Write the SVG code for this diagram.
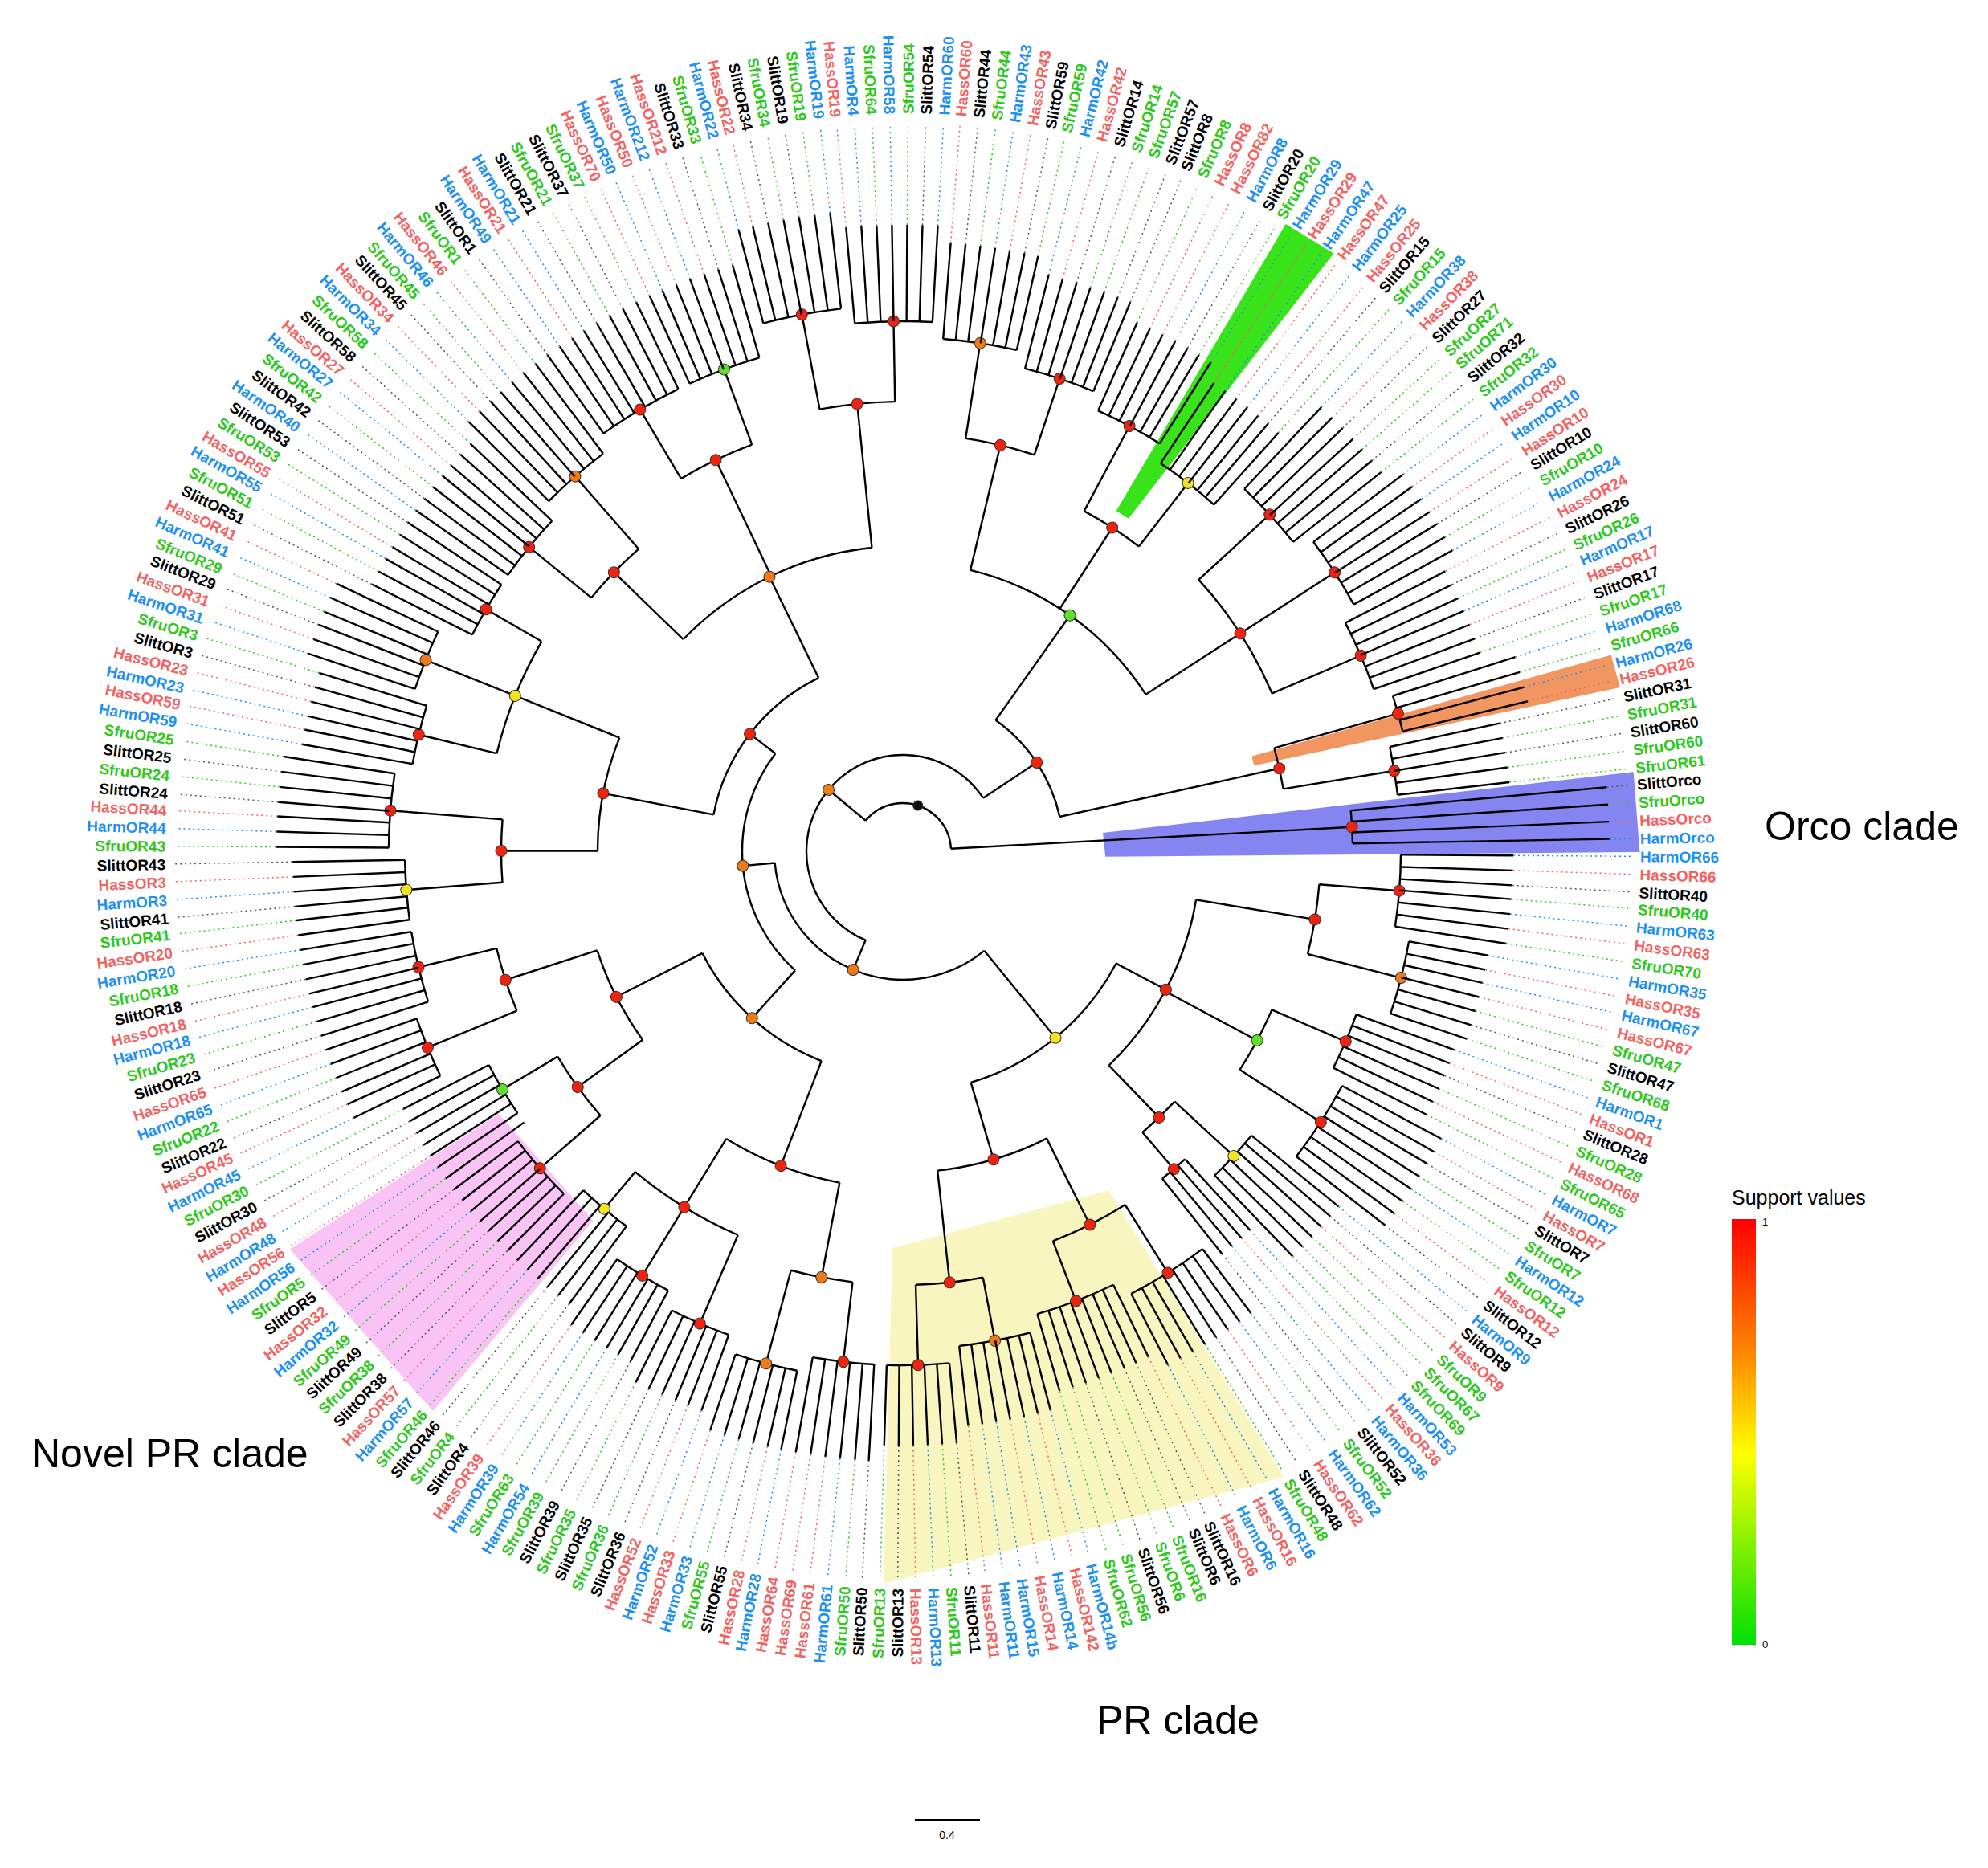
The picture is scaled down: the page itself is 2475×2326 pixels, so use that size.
<svg xmlns="http://www.w3.org/2000/svg" width="2475" height="2326" viewBox="0 0 2475 2326">
<style>
text{font-family:"Liberation Sans",Arial,sans-serif}
.lab text{font-size:19px;font-weight:bold}
.t{stroke:#000;stroke-width:2.4;fill:none}
.d{stroke-width:1.5;stroke-dasharray:2 4;fill:none}
.B text{fill:#1e90f0}.B .d{stroke:#1e90f0}
.R text{fill:#f06464}.R .d{stroke:#f06464}
.G text{fill:#2ec81e}.G .d{stroke:#2ec81e}
.K text{fill:#000}.K .d{stroke:#555}
.f text{text-anchor:end}
.br circle,.br path{fill:none;stroke:#000;stroke-width:2.4}
.dots circle{stroke:#333;stroke-width:1}
.r{fill:#f0230f}.o{fill:#f07a14}.y{fill:#f2e51c}.g{fill:#5fe02a}.k{fill:#111}
.big{font-size:50px;fill:#000}
</style>
<defs>
<linearGradient id="sv" x1="0" y1="0" x2="0" y2="1">
<stop offset="0" stop-color="#ff0000"/><stop offset="0.3" stop-color="#ff8000"/><stop offset="0.55" stop-color="#ffff00"/><stop offset="1" stop-color="#00e000"/>
</linearGradient>
</defs>
<rect width="2475" height="2326" fill="#fff"/>
<g transform="translate(1124 1060)">
<g id="shades">
<polygon transform="rotate(353.8)" points="250,4 915,0 912,100 250,34" fill="#6666ee" opacity="0.8"/>
<polygon transform="rotate(344.5)" points="450,2 915,0 915,42 450,14" fill="#f08a50" opacity="0.9"/>
<polygon transform="rotate(301.4)" points="500,6 915,0 915,70 500,24" fill="#22e000" opacity="0.9"/>
<path transform="rotate(130)" d="M600 0L910 0L870.2 266.1L573.8 175.4Z" fill="#f8b8f4" opacity="0.85"/>
<path transform="rotate(58.7)" d="M494 0L912 0L766.6 494L415.3 267.6Z" fill="#f8f4b8" opacity="0.9"/>
</g>
<g id="connectors" class="br">
<circle r="560" pathLength="360" stroke-dasharray="4.2 400" transform="rotate(354.8)"/>
<circle r="620" pathLength="360" stroke-dasharray="8.3 400" transform="rotate(0.4)"/>
<circle r="640" pathLength="360" stroke-dasharray="8.3 400" transform="rotate(10.1)"/>
<circle r="600" pathLength="360" stroke-dasharray="6.9 400" transform="rotate(19.8)"/>
<circle r="620" pathLength="360" stroke-dasharray="9.7 400" transform="rotate(28.1)"/>
<circle r="560" pathLength="360" stroke-dasharray="6.9 400" transform="rotate(39.2)"/>
<circle r="520" pathLength="360" stroke-dasharray="4.1 400" transform="rotate(47.5)"/>
<circle r="620" pathLength="360" stroke-dasharray="9.7 400" transform="rotate(53.0)"/>
<circle r="600" pathLength="360" stroke-dasharray="9.7 400" transform="rotate(64.1)"/>
<circle r="620" pathLength="360" stroke-dasharray="8.3 400" transform="rotate(75.2)"/>
<circle r="640" pathLength="360" stroke-dasharray="7.0 400" transform="rotate(84.8)"/>
<circle r="640" pathLength="360" stroke-dasharray="6.9 400" transform="rotate(93.2)"/>
<circle r="660" pathLength="360" stroke-dasharray="6.9 400" transform="rotate(101.5)"/>
<circle r="640" pathLength="360" stroke-dasharray="6.9 400" transform="rotate(109.8)"/>
<circle r="620" pathLength="360" stroke-dasharray="6.9 400" transform="rotate(118.1)"/>
<circle r="580" pathLength="360" stroke-dasharray="6.9 400" transform="rotate(126.4)"/>
<circle r="600" pathLength="360" stroke-dasharray="8.3 400" transform="rotate(134.7)"/>
<circle r="580" pathLength="360" stroke-dasharray="6.9 400" transform="rotate(145.8)"/>
<circle r="640" pathLength="360" stroke-dasharray="6.9 400" transform="rotate(154.1)"/>
<circle r="620" pathLength="360" stroke-dasharray="8.3 400" transform="rotate(162.4)"/>
<circle r="620" pathLength="360" stroke-dasharray="6.9 400" transform="rotate(172.1)"/>
<circle r="640" pathLength="360" stroke-dasharray="8.3 400" transform="rotate(180.4)"/>
<circle r="620" pathLength="360" stroke-dasharray="6.9 400" transform="rotate(190.1)"/>
<circle r="640" pathLength="360" stroke-dasharray="6.9 400" transform="rotate(198.4)"/>
<circle r="600" pathLength="360" stroke-dasharray="6.9 400" transform="rotate(206.7)"/>
<circle r="600" pathLength="360" stroke-dasharray="8.3 400" transform="rotate(215.0)"/>
<circle r="620" pathLength="360" stroke-dasharray="8.3 400" transform="rotate(224.7)"/>
<circle r="640" pathLength="360" stroke-dasharray="9.7 400" transform="rotate(234.4)"/>
<circle r="640" pathLength="360" stroke-dasharray="8.3 400" transform="rotate(245.5)"/>
<circle r="680" pathLength="360" stroke-dasharray="8.3 400" transform="rotate(255.2)"/>
<circle r="660" pathLength="360" stroke-dasharray="8.4 400" transform="rotate(264.8)"/>
<circle r="640" pathLength="360" stroke-dasharray="8.3 400" transform="rotate(274.5)"/>
<circle r="620" pathLength="360" stroke-dasharray="8.3 400" transform="rotate(284.2)"/>
<circle r="600" pathLength="360" stroke-dasharray="8.3 400" transform="rotate(293.9)"/>
<circle r="580" pathLength="360" stroke-dasharray="8.3 400" transform="rotate(303.6)"/>
<circle r="620" pathLength="360" stroke-dasharray="8.3 400" transform="rotate(313.3)"/>
<circle r="640" pathLength="360" stroke-dasharray="8.3 400" transform="rotate(323.0)"/>
<circle r="620" pathLength="360" stroke-dasharray="8.3 400" transform="rotate(332.7)"/>
<circle r="640" pathLength="360" stroke-dasharray="4.1 400" transform="rotate(342.4)"/>
<circle r="620" pathLength="360" stroke-dasharray="5.6 400" transform="rotate(347.9)"/>
<circle r="520" pathLength="360" stroke-dasharray="9.7 400" transform="rotate(4.55)"/>
<circle r="500" pathLength="360" stroke-dasharray="9.7 400" transform="rotate(23.25)"/>
<circle r="460" pathLength="360" stroke-dasharray="6.9 400" transform="rotate(42.65)"/>
<circle r="370" pathLength="360" stroke-dasharray="36.7 400" transform="rotate(9.4)"/>
<circle r="520" pathLength="360" stroke-dasharray="11.1 400" transform="rotate(57.85)"/>
<circle r="540" pathLength="360" stroke-dasharray="8.95 400" transform="rotate(79.35)"/>
<circle r="400" pathLength="360" stroke-dasharray="20.4 400" transform="rotate(63.4)"/>
<circle r="540" pathLength="360" stroke-dasharray="8.3 400" transform="rotate(96.65)"/>
<circle r="520" pathLength="360" stroke-dasharray="16.6 400" transform="rotate(113.25)"/>
<circle r="420" pathLength="360" stroke-dasharray="20.75 400" transform="rotate(100.8)"/>
<circle r="500" pathLength="360" stroke-dasharray="10.4 400" transform="rotate(138.85)"/>
<circle r="520" pathLength="360" stroke-dasharray="9 400" transform="rotate(157.55)"/>
<circle r="400" pathLength="360" stroke-dasharray="18 400" transform="rotate(144.05)"/>
<circle r="500" pathLength="360" stroke-dasharray="9 400" transform="rotate(175.55)"/>
<circle r="520" pathLength="360" stroke-dasharray="16.6 400" transform="rotate(193.55)"/>
<circle r="380" pathLength="360" stroke-dasharray="21.8 400" transform="rotate(180.05)"/>
<circle r="500" pathLength="360" stroke-dasharray="9.7 400" transform="rotate(219.15)"/>
<circle r="540" pathLength="360" stroke-dasharray="10.4 400" transform="rotate(239.25)"/>
<circle r="560" pathLength="360" stroke-dasharray="9.65 400" transform="rotate(259.35)"/>
<circle r="380" pathLength="360" stroke-dasharray="40.175 400" transform="rotate(224.0)"/>
<circle r="520" pathLength="360" stroke-dasharray="9.7 400" transform="rotate(278.65)"/>
<circle r="480" pathLength="360" stroke-dasharray="9.7 400" transform="rotate(298.05)"/>
<circle r="500" pathLength="360" stroke-dasharray="19.4 400" transform="rotate(317.45)"/>
<circle r="360" pathLength="360" stroke-dasharray="43.65 400" transform="rotate(283.5)"/>
<circle r="480" pathLength="360" stroke-dasharray="6.25 400" transform="rotate(344.45)"/>
<circle r="240" pathLength="360" stroke-dasharray="53.14 400" transform="rotate(190.95)"/>
<circle r="280" pathLength="360" stroke-dasharray="41.85 400" transform="rotate(111.2)"/>
<circle r="200" pathLength="360" stroke-dasharray="85.4 400" transform="rotate(132.1)"/>
<circle r="300" pathLength="360" stroke-dasharray="45.85 400" transform="rotate(27.75)"/>
<circle r="160" pathLength="360" stroke-dasharray="124.1 400" transform="rotate(50.7)"/>
<circle r="200" pathLength="360" stroke-dasharray="42.3 400" transform="rotate(305.3)"/>
<circle r="120" pathLength="360" stroke-dasharray="213.7 400" transform="rotate(112.75)"/>
<circle r="60" pathLength="360" stroke-dasharray="137.3 400" transform="rotate(219.6)"/>
<path d="M520 0H620" transform="rotate(4.55)"/>
<path d="M520 0H640" transform="rotate(14.25)"/>
<path d="M500 0H600" transform="rotate(23.25)"/>
<path d="M500 0H620" transform="rotate(32.95)"/>
<path d="M460 0H560" transform="rotate(42.65)"/>
<path d="M460 0H520" transform="rotate(49.55)"/>
<path d="M370 0H520" transform="rotate(9.4)"/>
<path d="M370 0H500" transform="rotate(28.1)"/>
<path d="M370 0H460" transform="rotate(46.1)"/>
<path d="M520 0H620" transform="rotate(57.85)"/>
<path d="M520 0H600" transform="rotate(68.95)"/>
<path d="M540 0H620" transform="rotate(79.35)"/>
<path d="M540 0H640" transform="rotate(88.3)"/>
<path d="M400 0H520" transform="rotate(63.4)"/>
<path d="M400 0H540" transform="rotate(83.8)"/>
<path d="M540 0H640" transform="rotate(96.65)"/>
<path d="M540 0H660" transform="rotate(104.95)"/>
<path d="M520 0H640" transform="rotate(113.25)"/>
<path d="M520 0H620" transform="rotate(121.55)"/>
<path d="M520 0H580" transform="rotate(129.85)"/>
<path d="M420 0H540" transform="rotate(100.8)"/>
<path d="M420 0H520" transform="rotate(121.55)"/>
<path d="M500 0H600" transform="rotate(138.85)"/>
<path d="M500 0H580" transform="rotate(149.25)"/>
<path d="M520 0H640" transform="rotate(157.55)"/>
<path d="M520 0H620" transform="rotate(166.55)"/>
<path d="M400 0H500" transform="rotate(144.05)"/>
<path d="M400 0H520" transform="rotate(162.05)"/>
<path d="M500 0H620" transform="rotate(175.55)"/>
<path d="M500 0H640" transform="rotate(184.55)"/>
<path d="M520 0H620" transform="rotate(193.55)"/>
<path d="M520 0H640" transform="rotate(201.85)"/>
<path d="M520 0H600" transform="rotate(210.15)"/>
<path d="M380 0H500" transform="rotate(180.05)"/>
<path d="M380 0H520" transform="rotate(201.85)"/>
<path d="M500 0H600" transform="rotate(219.15)"/>
<path d="M500 0H620" transform="rotate(228.85)"/>
<path d="M540 0H640" transform="rotate(239.25)"/>
<path d="M540 0H640" transform="rotate(249.65)"/>
<path d="M560 0H680" transform="rotate(259.35)"/>
<path d="M560 0H660" transform="rotate(269.0)"/>
<path d="M380 0H500" transform="rotate(224.0)"/>
<path d="M380 0H540" transform="rotate(244.45)"/>
<path d="M380 0H560" transform="rotate(264.175)"/>
<path d="M520 0H640" transform="rotate(278.65)"/>
<path d="M520 0H620" transform="rotate(288.35)"/>
<path d="M480 0H600" transform="rotate(298.05)"/>
<path d="M480 0H580" transform="rotate(307.75)"/>
<path d="M500 0H620" transform="rotate(317.45)"/>
<path d="M500 0H640" transform="rotate(327.15)"/>
<path d="M500 0H620" transform="rotate(336.85)"/>
<path d="M360 0H520" transform="rotate(283.5)"/>
<path d="M360 0H480" transform="rotate(302.9)"/>
<path d="M360 0H500" transform="rotate(327.15)"/>
<path d="M480 0H640" transform="rotate(344.45)"/>
<path d="M480 0H620" transform="rotate(350.7)"/>
<path d="M240 0H380" transform="rotate(190.95)"/>
<path d="M240 0H380" transform="rotate(244.09)"/>
<path d="M280 0H420" transform="rotate(111.2)"/>
<path d="M280 0H400" transform="rotate(153.05)"/>
<path d="M200 0H280" transform="rotate(132.1)"/>
<path d="M200 0H240" transform="rotate(217.5)"/>
<path d="M300 0H370" transform="rotate(27.75)"/>
<path d="M300 0H400" transform="rotate(73.6)"/>
<path d="M160 0H300" transform="rotate(50.7)"/>
<path d="M160 0H200" transform="rotate(174.8)"/>
<path d="M200 0H360" transform="rotate(305.3)"/>
<path d="M200 0H480" transform="rotate(347.575)"/>
<path d="M120 0H160" transform="rotate(112.75)"/>
<path d="M120 0H200" transform="rotate(326.45)"/>
<path d="M60 0H120" transform="rotate(219.6)"/>
<path d="M60 0H560" transform="rotate(356.9)"/>
</g>
<g id="nodes-support" class="dots">
<circle class="r" cx="620" r="7" transform="rotate(4.55)"/><circle class="o" cx="640" r="7" transform="rotate(14.25)"/><circle class="r" cx="600" r="7" transform="rotate(23.25)"/><circle class="r" cx="620" r="7" transform="rotate(32.95)"/><circle class="y" cx="560" r="7" transform="rotate(42.65)"/><circle class="r" cx="520" r="7" transform="rotate(49.55)"/>
<circle class="r" cx="620" r="7" transform="rotate(57.85)"/><circle class="r" cx="600" r="7" transform="rotate(68.95)"/><circle class="o" cx="620" r="7" transform="rotate(79.35)"/><circle class="r" cx="640" r="7" transform="rotate(88.3)"/>
<circle class="r" cx="640" r="7" transform="rotate(96.65)"/><circle class="o" cx="660" r="7" transform="rotate(104.95)"/><circle class="r" cx="640" r="7" transform="rotate(113.25)"/><circle class="r" cx="620" r="7" transform="rotate(121.55)"/><circle class="y" cx="580" r="7" transform="rotate(129.85)"/>
<circle class="r" cx="600" r="7" transform="rotate(138.85)"/><circle class="g" cx="580" r="7" transform="rotate(149.25)"/><circle class="r" cx="640" r="7" transform="rotate(157.55)"/><circle class="r" cx="620" r="7" transform="rotate(166.55)"/>
<circle class="y" cx="620" r="7" transform="rotate(175.55)"/><circle class="r" cx="640" r="7" transform="rotate(184.55)"/><circle class="r" cx="620" r="7" transform="rotate(193.55)"/><circle class="o" cx="640" r="7" transform="rotate(201.85)"/><circle class="r" cx="600" r="7" transform="rotate(210.15)"/>
<circle class="r" cx="600" r="7" transform="rotate(219.15)"/><circle class="o" cx="620" r="7" transform="rotate(228.85)"/><circle class="r" cx="640" r="7" transform="rotate(239.25)"/><circle class="g" cx="640" r="7" transform="rotate(249.65)"/><circle class="r" cx="680" r="7" transform="rotate(259.35)"/><circle class="r" cx="660" r="7" transform="rotate(269.0)"/>
<circle class="o" cx="640" r="7" transform="rotate(278.65)"/><circle class="r" cx="620" r="7" transform="rotate(288.35)"/><circle class="r" cx="600" r="7" transform="rotate(298.05)"/><circle class="y" cx="580" r="7" transform="rotate(307.75)"/><circle class="r" cx="620" r="7" transform="rotate(317.45)"/><circle class="r" cx="640" r="7" transform="rotate(327.15)"/><circle class="r" cx="620" r="7" transform="rotate(336.85)"/>
<circle class="r" cx="640" r="7" transform="rotate(344.45)"/><circle class="r" cx="620" r="7" transform="rotate(350.7)"/><circle class="r" cx="560" r="7" transform="rotate(356.9)"/>
<circle class="r" cx="520" r="7" transform="rotate(9.4)"/><circle class="g" cx="500" r="7" transform="rotate(28.1)"/><circle class="r" cx="460" r="7" transform="rotate(46.1)"/><circle class="r" cx="370" r="7" transform="rotate(27.75)"/>
<circle class="r" cx="520" r="7" transform="rotate(63.4)"/><circle class="r" cx="540" r="7" transform="rotate(83.8)"/><circle class="r" cx="400" r="7" transform="rotate(73.6)"/>
<circle class="o" cx="540" r="7" transform="rotate(100.8)"/><circle class="r" cx="520" r="7" transform="rotate(121.55)"/><circle class="r" cx="420" r="7" transform="rotate(111.2)"/>
<circle class="r" cx="500" r="7" transform="rotate(144.05)"/><circle class="r" cx="520" r="7" transform="rotate(162.05)"/><circle class="r" cx="400" r="7" transform="rotate(153.05)"/>
<circle class="r" cx="500" r="7" transform="rotate(180.05)"/><circle class="y" cx="520" r="7" transform="rotate(201.85)"/><circle class="r" cx="380" r="7" transform="rotate(190.95)"/>
<circle class="r" cx="500" r="7" transform="rotate(224)"/><circle class="r" cx="540" r="7" transform="rotate(244.45)"/><circle class="r" cx="560" r="7" transform="rotate(264.175)"/><circle class="o" cx="380" r="7" transform="rotate(244.09)"/>
<circle class="r" cx="520" r="7" transform="rotate(283.5)"/><circle class="r" cx="480" r="7" transform="rotate(302.9)"/><circle class="r" cx="500" r="7" transform="rotate(327.15)"/><circle class="g" cx="360" r="7" transform="rotate(305.3)"/>
<circle class="r" cx="480" r="7" transform="rotate(347.575)"/>
<circle class="r" cx="240" r="7" transform="rotate(217.5)"/><circle class="o" cx="280" r="7" transform="rotate(132.1)"/><circle class="o" cx="200" r="7" transform="rotate(174.8)"/><circle class="y" cx="300" r="7" transform="rotate(50.7)"/><circle class="o" cx="160" r="7" transform="rotate(112.75)"/><circle class="r" cx="200" r="7" transform="rotate(326.45)"/><circle class="o" cx="120" r="7" transform="rotate(219.6)"/><circle class="k" cx="60" r="6" transform="rotate(288.25)"/>
</g>
<g id="tips" class="lab">
<g id="n1" class="B" transform="rotate(-1.0)"><path class="t" d="M560 0H880"/><path class="d" d="M880 0H906"/><text x="918" y="7">HarmOrco</text></g>
<g id="n2" class="B" transform="rotate(0.4)"><path class="t" d="M620 0H760"/><path class="d" d="M760 0H906"/><text x="918" y="7">HarmOR66</text></g>
<g id="n3" class="R" transform="rotate(1.8)"><path class="t" d="M620 0H760"/><path class="d" d="M760 0H906"/><text x="918" y="7">HassOR66</text></g>
<g id="n4" class="K" transform="rotate(3.2)"><path class="t" d="M620 0H760"/><path class="d" d="M760 0H906"/><text x="918" y="7">SlittOR40</text></g>
<g id="n5" class="G" transform="rotate(4.5)"><path class="t" d="M620 0H760"/><path class="d" d="M760 0H906"/><text x="918" y="7">SfruOR40</text></g>
<g id="n6" class="B" transform="rotate(5.9)"><path class="t" d="M620 0H760"/><path class="d" d="M760 0H906"/><text x="918" y="7">HarmOR63</text></g>
<g id="n7" class="R" transform="rotate(7.3)"><path class="t" d="M620 0H760"/><path class="d" d="M760 0H906"/><text x="918" y="7">HassOR63</text></g>
<g id="n8" class="G" transform="rotate(8.7)"><path class="t" d="M620 0H760"/><path class="d" d="M760 0H906"/><text x="918" y="7">SfruOR70</text></g>
<g id="n9" class="B" transform="rotate(10.1)"><path class="t" d="M640 0H740"/><path class="d" d="M740 0H906"/><text x="918" y="7">HarmOR35</text></g>
<g id="n10" class="R" transform="rotate(11.5)"><path class="t" d="M640 0H740"/><path class="d" d="M740 0H906"/><text x="918" y="7">HassOR35</text></g>
<g id="n11" class="B" transform="rotate(12.8)"><path class="t" d="M640 0H740"/><path class="d" d="M740 0H906"/><text x="918" y="7">HarmOR67</text></g>
<g id="n12" class="R" transform="rotate(14.2)"><path class="t" d="M640 0H740"/><path class="d" d="M740 0H906"/><text x="918" y="7">HassOR67</text></g>
<g id="n13" class="G" transform="rotate(15.6)"><path class="t" d="M640 0H740"/><path class="d" d="M740 0H906"/><text x="918" y="7">SfruOR47</text></g>
<g id="n14" class="K" transform="rotate(17.0)"><path class="t" d="M640 0H740"/><path class="d" d="M740 0H906"/><text x="918" y="7">SlittOR47</text></g>
<g id="n15" class="G" transform="rotate(18.4)"><path class="t" d="M640 0H740"/><path class="d" d="M740 0H906"/><text x="918" y="7">SfruOR68</text></g>
<g id="n16" class="B" transform="rotate(19.8)"><path class="t" d="M600 0H730"/><path class="d" d="M730 0H906"/><text x="918" y="7">HarmOR1</text></g>
<g id="n17" class="R" transform="rotate(21.2)"><path class="t" d="M600 0H730"/><path class="d" d="M730 0H906"/><text x="918" y="7">HassOR1</text></g>
<g id="n18" class="K" transform="rotate(22.5)"><path class="t" d="M600 0H730"/><path class="d" d="M730 0H906"/><text x="918" y="7">SlittOR28</text></g>
<g id="n19" class="G" transform="rotate(23.9)"><path class="t" d="M600 0H730"/><path class="d" d="M730 0H906"/><text x="918" y="7">SfruOR28</text></g>
<g id="n20" class="R" transform="rotate(25.3)"><path class="t" d="M600 0H730"/><path class="d" d="M730 0H906"/><text x="918" y="7">HassOR68</text></g>
<g id="n21" class="G" transform="rotate(26.7)"><path class="t" d="M600 0H730"/><path class="d" d="M730 0H906"/><text x="918" y="7">SfruOR65</text></g>
<g id="n22" class="B" transform="rotate(28.1)"><path class="t" d="M620 0H760"/><path class="d" d="M760 0H906"/><text x="918" y="7">HarmOR7</text></g>
<g id="n23" class="R" transform="rotate(29.5)"><path class="t" d="M620 0H760"/><path class="d" d="M760 0H906"/><text x="918" y="7">HassOR7</text></g>
<g id="n24" class="K" transform="rotate(30.8)"><path class="t" d="M620 0H760"/><path class="d" d="M760 0H906"/><text x="918" y="7">SlittOR7</text></g>
<g id="n25" class="G" transform="rotate(32.2)"><path class="t" d="M620 0H760"/><path class="d" d="M760 0H906"/><text x="918" y="7">SfruOR7</text></g>
<g id="n26" class="B" transform="rotate(33.6)"><path class="t" d="M620 0H760"/><path class="d" d="M760 0H906"/><text x="918" y="7">HarmOR12</text></g>
<g id="n27" class="G" transform="rotate(35.0)"><path class="t" d="M620 0H760"/><path class="d" d="M760 0H906"/><text x="918" y="7">SfruOR12</text></g>
<g id="n28" class="R" transform="rotate(36.4)"><path class="t" d="M620 0H760"/><path class="d" d="M760 0H906"/><text x="918" y="7">HassOR12</text></g>
<g id="n29" class="K" transform="rotate(37.8)"><path class="t" d="M620 0H760"/><path class="d" d="M760 0H906"/><text x="918" y="7">SlittOR12</text></g>
<g id="n30" class="B" transform="rotate(39.2)"><path class="t" d="M560 0H700"/><path class="d" d="M700 0H906"/><text x="918" y="7">HarmOR9</text></g>
<g id="n31" class="K" transform="rotate(40.5)"><path class="t" d="M560 0H700"/><path class="d" d="M700 0H906"/><text x="918" y="7">SlittOR9</text></g>
<g id="n32" class="R" transform="rotate(41.9)"><path class="t" d="M560 0H700"/><path class="d" d="M700 0H906"/><text x="918" y="7">HassOR9</text></g>
<g id="n33" class="G" transform="rotate(43.3)"><path class="t" d="M560 0H700"/><path class="d" d="M700 0H906"/><text x="918" y="7">SfruOR9</text></g>
<g id="n34" class="G" transform="rotate(44.7)"><path class="t" d="M560 0H700"/><path class="d" d="M700 0H906"/><text x="918" y="7">SfruOR67</text></g>
<g id="n35" class="G" transform="rotate(46.1)"><path class="t" d="M560 0H700"/><path class="d" d="M700 0H906"/><text x="918" y="7">SfruOR69</text></g>
<g id="n36" class="B" transform="rotate(47.5)"><path class="t" d="M520 0H640"/><path class="d" d="M640 0H906"/><text x="918" y="7">HarmOR53</text></g>
<g id="n37" class="R" transform="rotate(48.8)"><path class="t" d="M520 0H640"/><path class="d" d="M640 0H906"/><text x="918" y="7">HassOR36</text></g>
<g id="n38" class="B" transform="rotate(50.2)"><path class="t" d="M520 0H640"/><path class="d" d="M640 0H906"/><text x="918" y="7">HarmOR36</text></g>
<g id="n39" class="K" transform="rotate(51.6)"><path class="t" d="M520 0H640"/><path class="d" d="M640 0H906"/><text x="918" y="7">SlittOR52</text></g>
<g id="n40" class="G" transform="rotate(53.0)"><path class="t" d="M620 0H720"/><path class="d" d="M720 0H906"/><text x="918" y="7">SfruOR52</text></g>
<g id="n41" class="B" transform="rotate(54.4)"><path class="t" d="M620 0H720"/><path class="d" d="M720 0H906"/><text x="918" y="7">HarmOR62</text></g>
<g id="n42" class="R" transform="rotate(55.8)"><path class="t" d="M620 0H720"/><path class="d" d="M720 0H906"/><text x="918" y="7">HassOR62</text></g>
<g id="n43" class="K" transform="rotate(57.2)"><path class="t" d="M620 0H720"/><path class="d" d="M720 0H906"/><text x="918" y="7">SlittOR48</text></g>
<g id="n44" class="G" transform="rotate(58.5)"><path class="t" d="M620 0H720"/><path class="d" d="M720 0H906"/><text x="918" y="7">SfruOR48</text></g>
<g id="n45" class="B" transform="rotate(59.9)"><path class="t" d="M620 0H720"/><path class="d" d="M720 0H906"/><text x="918" y="7">HarmOR16</text></g>
<g id="n46" class="R" transform="rotate(61.3)"><path class="t" d="M620 0H720"/><path class="d" d="M720 0H906"/><text x="918" y="7">HassOR16</text></g>
<g id="n47" class="B" transform="rotate(62.7)"><path class="t" d="M620 0H720"/><path class="d" d="M720 0H906"/><text x="918" y="7">HarmOR6</text></g>
<g id="n48" class="R" transform="rotate(64.1)"><path class="t" d="M600 0H700"/><path class="d" d="M700 0H906"/><text x="918" y="7">HassOR6</text></g>
<g id="n49" class="K" transform="rotate(65.5)"><path class="t" d="M600 0H700"/><path class="d" d="M700 0H906"/><text x="918" y="7">SlittOR16</text></g>
<g id="n50" class="K" transform="rotate(66.8)"><path class="t" d="M600 0H700"/><path class="d" d="M700 0H906"/><text x="918" y="7">SlittOR6</text></g>
<g id="n51" class="G" transform="rotate(68.2)"><path class="t" d="M600 0H700"/><path class="d" d="M700 0H906"/><text x="918" y="7">SfruOR16</text></g>
<g id="n52" class="G" transform="rotate(69.6)"><path class="t" d="M600 0H700"/><path class="d" d="M700 0H906"/><text x="918" y="7">SfruOR6</text></g>
<g id="n53" class="K" transform="rotate(71.0)"><path class="t" d="M600 0H700"/><path class="d" d="M700 0H906"/><text x="918" y="7">SlittOR56</text></g>
<g id="n54" class="G" transform="rotate(72.4)"><path class="t" d="M600 0H700"/><path class="d" d="M700 0H906"/><text x="918" y="7">SfruOR56</text></g>
<g id="n55" class="G" transform="rotate(73.8)"><path class="t" d="M600 0H700"/><path class="d" d="M700 0H906"/><text x="918" y="7">SfruOR62</text></g>
<g id="n56" class="B" transform="rotate(75.2)"><path class="t" d="M620 0H720"/><path class="d" d="M720 0H906"/><text x="918" y="7">HarmOR14b</text></g>
<g id="n57" class="R" transform="rotate(76.5)"><path class="t" d="M620 0H720"/><path class="d" d="M720 0H906"/><text x="918" y="7">HassOR142</text></g>
<g id="n58" class="B" transform="rotate(77.9)"><path class="t" d="M620 0H720"/><path class="d" d="M720 0H906"/><text x="918" y="7">HarmOR14</text></g>
<g id="n59" class="R" transform="rotate(79.3)"><path class="t" d="M620 0H720"/><path class="d" d="M720 0H906"/><text x="918" y="7">HassOR14</text></g>
<g id="n60" class="B" transform="rotate(80.7)"><path class="t" d="M620 0H720"/><path class="d" d="M720 0H906"/><text x="918" y="7">HarmOR15</text></g>
<g id="n61" class="B" transform="rotate(82.1)"><path class="t" d="M620 0H720"/><path class="d" d="M720 0H906"/><text x="918" y="7">HarmOR11</text></g>
<g id="n62" class="R" transform="rotate(83.5)"><path class="t" d="M620 0H720"/><path class="d" d="M720 0H906"/><text x="918" y="7">HassOR11</text></g>
<g id="n63" class="K" transform="rotate(84.8)"><path class="t" d="M640 0H740"/><path class="d" d="M740 0H906"/><text x="918" y="7">SlittOR11</text></g>
<g id="n64" class="G" transform="rotate(86.2)"><path class="t" d="M640 0H740"/><path class="d" d="M740 0H906"/><text x="918" y="7">SfruOR11</text></g>
<g id="n65" class="B" transform="rotate(87.6)"><path class="t" d="M640 0H740"/><path class="d" d="M740 0H906"/><text x="918" y="7">HarmOR13</text></g>
<g id="n66" class="R" transform="rotate(89.0)"><path class="t" d="M640 0H740"/><path class="d" d="M740 0H906"/><text x="918" y="7">HassOR13</text></g>
<g id="n67" class="K f" transform="rotate(-89.6)"><path class="t" d="M-640 0H-740"/><path class="d" d="M-740 0H-906"/><text x="-918" y="7">SlittOR13</text></g>
<g id="n68" class="G f" transform="rotate(-88.2)"><path class="t" d="M-640 0H-740"/><path class="d" d="M-740 0H-906"/><text x="-918" y="7">SfruOR13</text></g>
<g id="n69" class="K f" transform="rotate(-86.8)"><path class="t" d="M-640 0H-760"/><path class="d" d="M-760 0H-906"/><text x="-918" y="7">SlittOR50</text></g>
<g id="n70" class="G f" transform="rotate(-85.5)"><path class="t" d="M-640 0H-760"/><path class="d" d="M-760 0H-906"/><text x="-918" y="7">SfruOR50</text></g>
<g id="n71" class="B f" transform="rotate(-84.1)"><path class="t" d="M-640 0H-760"/><path class="d" d="M-760 0H-906"/><text x="-918" y="7">HarmOR61</text></g>
<g id="n72" class="R f" transform="rotate(-82.7)"><path class="t" d="M-640 0H-760"/><path class="d" d="M-760 0H-906"/><text x="-918" y="7">HassOR61</text></g>
<g id="n73" class="R f" transform="rotate(-81.3)"><path class="t" d="M-640 0H-760"/><path class="d" d="M-760 0H-906"/><text x="-918" y="7">HassOR69</text></g>
<g id="n74" class="R f" transform="rotate(-79.9)"><path class="t" d="M-640 0H-760"/><path class="d" d="M-760 0H-906"/><text x="-918" y="7">HassOR64</text></g>
<g id="n75" class="B f" transform="rotate(-78.5)"><path class="t" d="M-660 0H-760"/><path class="d" d="M-760 0H-906"/><text x="-918" y="7">HarmOR28</text></g>
<g id="n76" class="R f" transform="rotate(-77.2)"><path class="t" d="M-660 0H-760"/><path class="d" d="M-760 0H-906"/><text x="-918" y="7">HassOR28</text></g>
<g id="n77" class="K f" transform="rotate(-75.8)"><path class="t" d="M-660 0H-760"/><path class="d" d="M-760 0H-906"/><text x="-918" y="7">SlittOR55</text></g>
<g id="n78" class="G f" transform="rotate(-74.4)"><path class="t" d="M-660 0H-760"/><path class="d" d="M-760 0H-906"/><text x="-918" y="7">SfruOR55</text></g>
<g id="n79" class="B f" transform="rotate(-73.0)"><path class="t" d="M-660 0H-760"/><path class="d" d="M-760 0H-906"/><text x="-918" y="7">HarmOR33</text></g>
<g id="n80" class="R f" transform="rotate(-71.6)"><path class="t" d="M-660 0H-760"/><path class="d" d="M-760 0H-906"/><text x="-918" y="7">HassOR33</text></g>
<g id="n81" class="B f" transform="rotate(-70.2)"><path class="t" d="M-640 0H-740"/><path class="d" d="M-740 0H-906"/><text x="-918" y="7">HarmOR52</text></g>
<g id="n82" class="R f" transform="rotate(-68.8)"><path class="t" d="M-640 0H-740"/><path class="d" d="M-740 0H-906"/><text x="-918" y="7">HassOR52</text></g>
<g id="n83" class="K f" transform="rotate(-67.5)"><path class="t" d="M-640 0H-740"/><path class="d" d="M-740 0H-906"/><text x="-918" y="7">SlittOR36</text></g>
<g id="n84" class="G f" transform="rotate(-66.1)"><path class="t" d="M-640 0H-740"/><path class="d" d="M-740 0H-906"/><text x="-918" y="7">SfruOR36</text></g>
<g id="n85" class="K f" transform="rotate(-64.7)"><path class="t" d="M-640 0H-740"/><path class="d" d="M-740 0H-906"/><text x="-918" y="7">SlittOR35</text></g>
<g id="n86" class="G f" transform="rotate(-63.3)"><path class="t" d="M-640 0H-740"/><path class="d" d="M-740 0H-906"/><text x="-918" y="7">SfruOR35</text></g>
<g id="n87" class="K f" transform="rotate(-61.9)"><path class="t" d="M-620 0H-720"/><path class="d" d="M-720 0H-906"/><text x="-918" y="7">SlittOR39</text></g>
<g id="n88" class="G f" transform="rotate(-60.5)"><path class="t" d="M-620 0H-720"/><path class="d" d="M-720 0H-906"/><text x="-918" y="7">SfruOR39</text></g>
<g id="n89" class="B f" transform="rotate(-59.2)"><path class="t" d="M-620 0H-720"/><path class="d" d="M-720 0H-906"/><text x="-918" y="7">HarmOR54</text></g>
<g id="n90" class="G f" transform="rotate(-57.8)"><path class="t" d="M-620 0H-720"/><path class="d" d="M-720 0H-906"/><text x="-918" y="7">SfruOR63</text></g>
<g id="n91" class="B f" transform="rotate(-56.4)"><path class="t" d="M-620 0H-720"/><path class="d" d="M-720 0H-906"/><text x="-918" y="7">HarmOR39</text></g>
<g id="n92" class="R f" transform="rotate(-55.0)"><path class="t" d="M-620 0H-720"/><path class="d" d="M-720 0H-906"/><text x="-918" y="7">HassOR39</text></g>
<g id="n93" class="K f" transform="rotate(-53.6)"><path class="t" d="M-580 0H-700"/><path class="d" d="M-700 0H-906"/><text x="-918" y="7">SlittOR4</text></g>
<g id="n94" class="G f" transform="rotate(-52.2)"><path class="t" d="M-580 0H-700"/><path class="d" d="M-700 0H-906"/><text x="-918" y="7">SfruOR4</text></g>
<g id="n95" class="K f" transform="rotate(-50.8)"><path class="t" d="M-580 0H-700"/><path class="d" d="M-700 0H-906"/><text x="-918" y="7">SlittOR46</text></g>
<g id="n96" class="G f" transform="rotate(-49.5)"><path class="t" d="M-580 0H-700"/><path class="d" d="M-700 0H-906"/><text x="-918" y="7">SfruOR46</text></g>
<g id="n97" class="B f" transform="rotate(-48.1)"><path class="t" d="M-580 0H-700"/><path class="d" d="M-700 0H-906"/><text x="-918" y="7">HarmOR57</text></g>
<g id="n98" class="R f" transform="rotate(-46.7)"><path class="t" d="M-580 0H-700"/><path class="d" d="M-700 0H-906"/><text x="-918" y="7">HassOR57</text></g>
<g id="n99" class="K f" transform="rotate(-45.3)"><path class="t" d="M-600 0H-700"/><path class="d" d="M-700 0H-906"/><text x="-918" y="7">SlittOR38</text></g>
<g id="n100" class="G f" transform="rotate(-43.9)"><path class="t" d="M-600 0H-700"/><path class="d" d="M-700 0H-906"/><text x="-918" y="7">SfruOR38</text></g>
<g id="n101" class="K f" transform="rotate(-42.5)"><path class="t" d="M-600 0H-700"/><path class="d" d="M-700 0H-906"/><text x="-918" y="7">SlittOR49</text></g>
<g id="n102" class="G f" transform="rotate(-41.2)"><path class="t" d="M-600 0H-700"/><path class="d" d="M-700 0H-906"/><text x="-918" y="7">SfruOR49</text></g>
<g id="n103" class="B f" transform="rotate(-39.8)"><path class="t" d="M-600 0H-700"/><path class="d" d="M-700 0H-906"/><text x="-918" y="7">HarmOR32</text></g>
<g id="n104" class="R f" transform="rotate(-38.4)"><path class="t" d="M-600 0H-700"/><path class="d" d="M-700 0H-906"/><text x="-918" y="7">HassOR32</text></g>
<g id="n105" class="K f" transform="rotate(-37.0)"><path class="t" d="M-600 0H-700"/><path class="d" d="M-700 0H-906"/><text x="-918" y="7">SlittOR5</text></g>
<g id="n106" class="G f" transform="rotate(-35.6)"><path class="t" d="M-580 0H-700"/><path class="d" d="M-700 0H-906"/><text x="-918" y="7">SfruOR5</text></g>
<g id="n107" class="B f" transform="rotate(-34.2)"><path class="t" d="M-580 0H-700"/><path class="d" d="M-700 0H-906"/><text x="-918" y="7">HarmOR56</text></g>
<g id="n108" class="R f" transform="rotate(-32.8)"><path class="t" d="M-580 0H-700"/><path class="d" d="M-700 0H-906"/><text x="-918" y="7">HassOR56</text></g>
<g id="n109" class="B f" transform="rotate(-31.5)"><path class="t" d="M-580 0H-700"/><path class="d" d="M-700 0H-906"/><text x="-918" y="7">HarmOR48</text></g>
<g id="n110" class="R f" transform="rotate(-30.1)"><path class="t" d="M-580 0H-700"/><path class="d" d="M-700 0H-906"/><text x="-918" y="7">HassOR48</text></g>
<g id="n111" class="K f" transform="rotate(-28.7)"><path class="t" d="M-580 0H-700"/><path class="d" d="M-700 0H-906"/><text x="-918" y="7">SlittOR30</text></g>
<g id="n112" class="G f" transform="rotate(-27.3)"><path class="t" d="M-580 0H-700"/><path class="d" d="M-700 0H-906"/><text x="-918" y="7">SfruOR30</text></g>
<g id="n113" class="B f" transform="rotate(-25.9)"><path class="t" d="M-640 0H-760"/><path class="d" d="M-760 0H-906"/><text x="-918" y="7">HarmOR45</text></g>
<g id="n114" class="R f" transform="rotate(-24.5)"><path class="t" d="M-640 0H-760"/><path class="d" d="M-760 0H-906"/><text x="-918" y="7">HassOR45</text></g>
<g id="n115" class="K f" transform="rotate(-23.2)"><path class="t" d="M-640 0H-760"/><path class="d" d="M-760 0H-906"/><text x="-918" y="7">SlittOR22</text></g>
<g id="n116" class="G f" transform="rotate(-21.8)"><path class="t" d="M-640 0H-760"/><path class="d" d="M-760 0H-906"/><text x="-918" y="7">SfruOR22</text></g>
<g id="n117" class="B f" transform="rotate(-20.4)"><path class="t" d="M-640 0H-760"/><path class="d" d="M-760 0H-906"/><text x="-918" y="7">HarmOR65</text></g>
<g id="n118" class="R f" transform="rotate(-19.0)"><path class="t" d="M-640 0H-760"/><path class="d" d="M-760 0H-906"/><text x="-918" y="7">HassOR65</text></g>
<g id="n119" class="K f" transform="rotate(-17.6)"><path class="t" d="M-620 0H-760"/><path class="d" d="M-760 0H-906"/><text x="-918" y="7">SlittOR23</text></g>
<g id="n120" class="G f" transform="rotate(-16.2)"><path class="t" d="M-620 0H-760"/><path class="d" d="M-760 0H-906"/><text x="-918" y="7">SfruOR23</text></g>
<g id="n121" class="B f" transform="rotate(-14.8)"><path class="t" d="M-620 0H-760"/><path class="d" d="M-760 0H-906"/><text x="-918" y="7">HarmOR18</text></g>
<g id="n122" class="R f" transform="rotate(-13.5)"><path class="t" d="M-620 0H-760"/><path class="d" d="M-760 0H-906"/><text x="-918" y="7">HassOR18</text></g>
<g id="n123" class="K f" transform="rotate(-12.1)"><path class="t" d="M-620 0H-760"/><path class="d" d="M-760 0H-906"/><text x="-918" y="7">SlittOR18</text></g>
<g id="n124" class="G f" transform="rotate(-10.7)"><path class="t" d="M-620 0H-760"/><path class="d" d="M-760 0H-906"/><text x="-918" y="7">SfruOR18</text></g>
<g id="n125" class="B f" transform="rotate(-9.3)"><path class="t" d="M-620 0H-760"/><path class="d" d="M-760 0H-906"/><text x="-918" y="7">HarmOR20</text></g>
<g id="n126" class="R f" transform="rotate(-7.9)"><path class="t" d="M-620 0H-760"/><path class="d" d="M-760 0H-906"/><text x="-918" y="7">HassOR20</text></g>
<g id="n127" class="G f" transform="rotate(-6.5)"><path class="t" d="M-620 0H-760"/><path class="d" d="M-760 0H-906"/><text x="-918" y="7">SfruOR41</text></g>
<g id="n128" class="K f" transform="rotate(-5.2)"><path class="t" d="M-620 0H-760"/><path class="d" d="M-760 0H-906"/><text x="-918" y="7">SlittOR41</text></g>
<g id="n129" class="B f" transform="rotate(-3.8)"><path class="t" d="M-620 0H-760"/><path class="d" d="M-760 0H-906"/><text x="-918" y="7">HarmOR3</text></g>
<g id="n130" class="R f" transform="rotate(-2.4)"><path class="t" d="M-620 0H-760"/><path class="d" d="M-760 0H-906"/><text x="-918" y="7">HassOR3</text></g>
<g id="n131" class="K f" transform="rotate(-1.0)"><path class="t" d="M-620 0H-760"/><path class="d" d="M-760 0H-906"/><text x="-918" y="7">SlittOR43</text></g>
<g id="n132" class="G f" transform="rotate(0.4)"><path class="t" d="M-640 0H-780"/><path class="d" d="M-780 0H-906"/><text x="-918" y="7">SfruOR43</text></g>
<g id="n133" class="B f" transform="rotate(1.8)"><path class="t" d="M-640 0H-780"/><path class="d" d="M-780 0H-906"/><text x="-918" y="7">HarmOR44</text></g>
<g id="n134" class="R f" transform="rotate(3.2)"><path class="t" d="M-640 0H-780"/><path class="d" d="M-780 0H-906"/><text x="-918" y="7">HassOR44</text></g>
<g id="n135" class="K f" transform="rotate(4.5)"><path class="t" d="M-640 0H-780"/><path class="d" d="M-780 0H-906"/><text x="-918" y="7">SlittOR24</text></g>
<g id="n136" class="G f" transform="rotate(5.9)"><path class="t" d="M-640 0H-780"/><path class="d" d="M-780 0H-906"/><text x="-918" y="7">SfruOR24</text></g>
<g id="n137" class="K f" transform="rotate(7.3)"><path class="t" d="M-640 0H-780"/><path class="d" d="M-780 0H-906"/><text x="-918" y="7">SlittOR25</text></g>
<g id="n138" class="G f" transform="rotate(8.7)"><path class="t" d="M-640 0H-780"/><path class="d" d="M-780 0H-906"/><text x="-918" y="7">SfruOR25</text></g>
<g id="n139" class="B f" transform="rotate(10.1)"><path class="t" d="M-620 0H-760"/><path class="d" d="M-760 0H-906"/><text x="-918" y="7">HarmOR59</text></g>
<g id="n140" class="R f" transform="rotate(11.5)"><path class="t" d="M-620 0H-760"/><path class="d" d="M-760 0H-906"/><text x="-918" y="7">HassOR59</text></g>
<g id="n141" class="B f" transform="rotate(12.8)"><path class="t" d="M-620 0H-760"/><path class="d" d="M-760 0H-906"/><text x="-918" y="7">HarmOR23</text></g>
<g id="n142" class="R f" transform="rotate(14.2)"><path class="t" d="M-620 0H-760"/><path class="d" d="M-760 0H-906"/><text x="-918" y="7">HassOR23</text></g>
<g id="n143" class="K f" transform="rotate(15.6)"><path class="t" d="M-620 0H-760"/><path class="d" d="M-760 0H-906"/><text x="-918" y="7">SlittOR3</text></g>
<g id="n144" class="G f" transform="rotate(17.0)"><path class="t" d="M-620 0H-760"/><path class="d" d="M-760 0H-906"/><text x="-918" y="7">SfruOR3</text></g>
<g id="n145" class="B f" transform="rotate(18.4)"><path class="t" d="M-640 0H-780"/><path class="d" d="M-780 0H-906"/><text x="-918" y="7">HarmOR31</text></g>
<g id="n146" class="R f" transform="rotate(19.8)"><path class="t" d="M-640 0H-780"/><path class="d" d="M-780 0H-906"/><text x="-918" y="7">HassOR31</text></g>
<g id="n147" class="K f" transform="rotate(21.2)"><path class="t" d="M-640 0H-780"/><path class="d" d="M-780 0H-906"/><text x="-918" y="7">SlittOR29</text></g>
<g id="n148" class="G f" transform="rotate(22.5)"><path class="t" d="M-640 0H-780"/><path class="d" d="M-780 0H-906"/><text x="-918" y="7">SfruOR29</text></g>
<g id="n149" class="B f" transform="rotate(23.9)"><path class="t" d="M-640 0H-780"/><path class="d" d="M-780 0H-906"/><text x="-918" y="7">HarmOR41</text></g>
<g id="n150" class="R f" transform="rotate(25.3)"><path class="t" d="M-640 0H-780"/><path class="d" d="M-780 0H-906"/><text x="-918" y="7">HassOR41</text></g>
<g id="n151" class="K f" transform="rotate(26.7)"><path class="t" d="M-600 0H-740"/><path class="d" d="M-740 0H-906"/><text x="-918" y="7">SlittOR51</text></g>
<g id="n152" class="G f" transform="rotate(28.1)"><path class="t" d="M-600 0H-740"/><path class="d" d="M-740 0H-906"/><text x="-918" y="7">SfruOR51</text></g>
<g id="n153" class="B f" transform="rotate(29.5)"><path class="t" d="M-600 0H-740"/><path class="d" d="M-740 0H-906"/><text x="-918" y="7">HarmOR55</text></g>
<g id="n154" class="R f" transform="rotate(30.8)"><path class="t" d="M-600 0H-740"/><path class="d" d="M-740 0H-906"/><text x="-918" y="7">HassOR55</text></g>
<g id="n155" class="G f" transform="rotate(32.2)"><path class="t" d="M-600 0H-740"/><path class="d" d="M-740 0H-906"/><text x="-918" y="7">SfruOR53</text></g>
<g id="n156" class="K f" transform="rotate(33.6)"><path class="t" d="M-600 0H-740"/><path class="d" d="M-740 0H-906"/><text x="-918" y="7">SlittOR53</text></g>
<g id="n157" class="B f" transform="rotate(35.0)"><path class="t" d="M-600 0H-740"/><path class="d" d="M-740 0H-906"/><text x="-918" y="7">HarmOR40</text></g>
<g id="n158" class="K f" transform="rotate(36.4)"><path class="t" d="M-600 0H-740"/><path class="d" d="M-740 0H-906"/><text x="-918" y="7">SlittOR42</text></g>
<g id="n159" class="G f" transform="rotate(37.8)"><path class="t" d="M-600 0H-740"/><path class="d" d="M-740 0H-906"/><text x="-918" y="7">SfruOR42</text></g>
<g id="n160" class="B f" transform="rotate(39.2)"><path class="t" d="M-600 0H-740"/><path class="d" d="M-740 0H-906"/><text x="-918" y="7">HarmOR27</text></g>
<g id="n161" class="R f" transform="rotate(40.5)"><path class="t" d="M-600 0H-740"/><path class="d" d="M-740 0H-906"/><text x="-918" y="7">HassOR27</text></g>
<g id="n162" class="K f" transform="rotate(41.9)"><path class="t" d="M-600 0H-740"/><path class="d" d="M-740 0H-906"/><text x="-918" y="7">SlittOR58</text></g>
<g id="n163" class="G f" transform="rotate(43.3)"><path class="t" d="M-600 0H-740"/><path class="d" d="M-740 0H-906"/><text x="-918" y="7">SfruOR58</text></g>
<g id="n164" class="B f" transform="rotate(44.7)"><path class="t" d="M-620 0H-760"/><path class="d" d="M-760 0H-906"/><text x="-918" y="7">HarmOR34</text></g>
<g id="n165" class="R f" transform="rotate(46.1)"><path class="t" d="M-620 0H-760"/><path class="d" d="M-760 0H-906"/><text x="-918" y="7">HassOR34</text></g>
<g id="n166" class="K f" transform="rotate(47.5)"><path class="t" d="M-620 0H-760"/><path class="d" d="M-760 0H-906"/><text x="-918" y="7">SlittOR45</text></g>
<g id="n167" class="G f" transform="rotate(48.8)"><path class="t" d="M-620 0H-760"/><path class="d" d="M-760 0H-906"/><text x="-918" y="7">SfruOR45</text></g>
<g id="n168" class="B f" transform="rotate(50.2)"><path class="t" d="M-620 0H-760"/><path class="d" d="M-760 0H-906"/><text x="-918" y="7">HarmOR46</text></g>
<g id="n169" class="R f" transform="rotate(51.6)"><path class="t" d="M-620 0H-760"/><path class="d" d="M-760 0H-906"/><text x="-918" y="7">HassOR46</text></g>
<g id="n170" class="G f" transform="rotate(53.0)"><path class="t" d="M-620 0H-760"/><path class="d" d="M-760 0H-906"/><text x="-918" y="7">SfruOR1</text></g>
<g id="n171" class="K f" transform="rotate(54.4)"><path class="t" d="M-640 0H-760"/><path class="d" d="M-760 0H-906"/><text x="-918" y="7">SlittOR1</text></g>
<g id="n172" class="B f" transform="rotate(55.8)"><path class="t" d="M-640 0H-760"/><path class="d" d="M-760 0H-906"/><text x="-918" y="7">HarmOR49</text></g>
<g id="n173" class="R f" transform="rotate(57.2)"><path class="t" d="M-640 0H-760"/><path class="d" d="M-760 0H-906"/><text x="-918" y="7">HassOR21</text></g>
<g id="n174" class="B f" transform="rotate(58.5)"><path class="t" d="M-640 0H-760"/><path class="d" d="M-760 0H-906"/><text x="-918" y="7">HarmOR21</text></g>
<g id="n175" class="K f" transform="rotate(59.9)"><path class="t" d="M-640 0H-760"/><path class="d" d="M-760 0H-906"/><text x="-918" y="7">SlittOR21</text></g>
<g id="n176" class="G f" transform="rotate(61.3)"><path class="t" d="M-640 0H-760"/><path class="d" d="M-760 0H-906"/><text x="-918" y="7">SfruOR21</text></g>
<g id="n177" class="K f" transform="rotate(62.7)"><path class="t" d="M-640 0H-760"/><path class="d" d="M-760 0H-906"/><text x="-918" y="7">SlittOR37</text></g>
<g id="n178" class="G f" transform="rotate(64.1)"><path class="t" d="M-640 0H-760"/><path class="d" d="M-760 0H-906"/><text x="-918" y="7">SfruOR37</text></g>
<g id="n179" class="R f" transform="rotate(65.5)"><path class="t" d="M-640 0H-760"/><path class="d" d="M-760 0H-906"/><text x="-918" y="7">HassOR70</text></g>
<g id="n180" class="B f" transform="rotate(66.8)"><path class="t" d="M-640 0H-760"/><path class="d" d="M-760 0H-906"/><text x="-918" y="7">HarmOR50</text></g>
<g id="n181" class="R f" transform="rotate(68.2)"><path class="t" d="M-640 0H-760"/><path class="d" d="M-760 0H-906"/><text x="-918" y="7">HassOR50</text></g>
<g id="n182" class="B f" transform="rotate(69.6)"><path class="t" d="M-640 0H-760"/><path class="d" d="M-760 0H-906"/><text x="-918" y="7">HarmOR212</text></g>
<g id="n183" class="R f" transform="rotate(71.0)"><path class="t" d="M-640 0H-760"/><path class="d" d="M-760 0H-906"/><text x="-918" y="7">HassOR212</text></g>
<g id="n184" class="K f" transform="rotate(72.4)"><path class="t" d="M-640 0H-760"/><path class="d" d="M-760 0H-906"/><text x="-918" y="7">SlittOR33</text></g>
<g id="n185" class="G f" transform="rotate(73.8)"><path class="t" d="M-640 0H-760"/><path class="d" d="M-760 0H-906"/><text x="-918" y="7">SfruOR33</text></g>
<g id="n186" class="B f" transform="rotate(75.2)"><path class="t" d="M-680 0H-800"/><path class="d" d="M-800 0H-906"/><text x="-918" y="7">HarmOR22</text></g>
<g id="n187" class="R f" transform="rotate(76.5)"><path class="t" d="M-680 0H-800"/><path class="d" d="M-800 0H-906"/><text x="-918" y="7">HassOR22</text></g>
<g id="n188" class="K f" transform="rotate(77.9)"><path class="t" d="M-680 0H-800"/><path class="d" d="M-800 0H-906"/><text x="-918" y="7">SlittOR34</text></g>
<g id="n189" class="G f" transform="rotate(79.3)"><path class="t" d="M-680 0H-800"/><path class="d" d="M-800 0H-906"/><text x="-918" y="7">SfruOR34</text></g>
<g id="n190" class="K f" transform="rotate(80.7)"><path class="t" d="M-680 0H-800"/><path class="d" d="M-800 0H-906"/><text x="-918" y="7">SlittOR19</text></g>
<g id="n191" class="G f" transform="rotate(82.1)"><path class="t" d="M-680 0H-800"/><path class="d" d="M-800 0H-906"/><text x="-918" y="7">SfruOR19</text></g>
<g id="n192" class="B f" transform="rotate(83.5)"><path class="t" d="M-680 0H-800"/><path class="d" d="M-800 0H-906"/><text x="-918" y="7">HarmOR19</text></g>
<g id="n193" class="R f" transform="rotate(84.8)"><path class="t" d="M-660 0H-780"/><path class="d" d="M-780 0H-906"/><text x="-918" y="7">HassOR19</text></g>
<g id="n194" class="B f" transform="rotate(86.2)"><path class="t" d="M-660 0H-780"/><path class="d" d="M-780 0H-906"/><text x="-918" y="7">HarmOR4</text></g>
<g id="n195" class="G f" transform="rotate(87.6)"><path class="t" d="M-660 0H-780"/><path class="d" d="M-780 0H-906"/><text x="-918" y="7">SfruOR64</text></g>
<g id="n196" class="B f" transform="rotate(89.0)"><path class="t" d="M-660 0H-780"/><path class="d" d="M-780 0H-906"/><text x="-918" y="7">HarmOR58</text></g>
<g id="n197" class="G" transform="rotate(270.4)"><path class="t" d="M660 0H780"/><path class="d" d="M780 0H906"/><text x="918" y="7">SfruOR54</text></g>
<g id="n198" class="K" transform="rotate(271.8)"><path class="t" d="M660 0H780"/><path class="d" d="M780 0H906"/><text x="918" y="7">SlittOR54</text></g>
<g id="n199" class="B" transform="rotate(273.2)"><path class="t" d="M660 0H780"/><path class="d" d="M780 0H906"/><text x="918" y="7">HarmOR60</text></g>
<g id="n200" class="R" transform="rotate(274.5)"><path class="t" d="M640 0H760"/><path class="d" d="M760 0H906"/><text x="918" y="7">HassOR60</text></g>
<g id="n201" class="K" transform="rotate(275.9)"><path class="t" d="M640 0H760"/><path class="d" d="M760 0H906"/><text x="918" y="7">SlittOR44</text></g>
<g id="n202" class="G" transform="rotate(277.3)"><path class="t" d="M640 0H760"/><path class="d" d="M760 0H906"/><text x="918" y="7">SfruOR44</text></g>
<g id="n203" class="B" transform="rotate(278.7)"><path class="t" d="M640 0H760"/><path class="d" d="M760 0H906"/><text x="918" y="7">HarmOR43</text></g>
<g id="n204" class="R" transform="rotate(280.1)"><path class="t" d="M640 0H760"/><path class="d" d="M760 0H906"/><text x="918" y="7">HassOR43</text></g>
<g id="n205" class="K" transform="rotate(281.5)"><path class="t" d="M640 0H760"/><path class="d" d="M760 0H906"/><text x="918" y="7">SlittOR59</text></g>
<g id="n206" class="G" transform="rotate(282.8)"><path class="t" d="M640 0H760"/><path class="d" d="M760 0H906"/><text x="918" y="7">SfruOR59</text></g>
<g id="n207" class="B" transform="rotate(284.2)"><path class="t" d="M620 0H740"/><path class="d" d="M740 0H906"/><text x="918" y="7">HarmOR42</text></g>
<g id="n208" class="R" transform="rotate(285.6)"><path class="t" d="M620 0H740"/><path class="d" d="M740 0H906"/><text x="918" y="7">HassOR42</text></g>
<g id="n209" class="K" transform="rotate(287.0)"><path class="t" d="M620 0H740"/><path class="d" d="M740 0H906"/><text x="918" y="7">SlittOR14</text></g>
<g id="n210" class="G" transform="rotate(288.4)"><path class="t" d="M620 0H740"/><path class="d" d="M740 0H906"/><text x="918" y="7">SfruOR14</text></g>
<g id="n211" class="G" transform="rotate(289.8)"><path class="t" d="M620 0H740"/><path class="d" d="M740 0H906"/><text x="918" y="7">SfruOR57</text></g>
<g id="n212" class="K" transform="rotate(291.2)"><path class="t" d="M620 0H740"/><path class="d" d="M740 0H906"/><text x="918" y="7">SlittOR57</text></g>
<g id="n213" class="K" transform="rotate(292.5)"><path class="t" d="M620 0H740"/><path class="d" d="M740 0H906"/><text x="918" y="7">SlittOR8</text></g>
<g id="n214" class="G" transform="rotate(293.9)"><path class="t" d="M600 0H720"/><path class="d" d="M720 0H906"/><text x="918" y="7">SfruOR8</text></g>
<g id="n215" class="R" transform="rotate(295.3)"><path class="t" d="M600 0H720"/><path class="d" d="M720 0H906"/><text x="918" y="7">HassOR8</text></g>
<g id="n216" class="R" transform="rotate(296.7)"><path class="t" d="M600 0H720"/><path class="d" d="M720 0H906"/><text x="918" y="7">HassOR82</text></g>
<g id="n217" class="B" transform="rotate(298.1)"><path class="t" d="M600 0H720"/><path class="d" d="M720 0H906"/><text x="918" y="7">HarmOR8</text></g>
<g id="n218" class="K" transform="rotate(299.5)"><path class="t" d="M600 0H720"/><path class="d" d="M720 0H906"/><text x="918" y="7">SlittOR20</text></g>
<g id="n219" class="G" transform="rotate(300.8)"><path class="t" d="M600 0H720"/><path class="d" d="M720 0H906"/><text x="918" y="7">SfruOR20</text></g>
<g id="n220" class="B" transform="rotate(302.2)"><path class="t" d="M600 0H720"/><path class="d" d="M720 0H906"/><text x="918" y="7">HarmOR29</text></g>
<g id="n221" class="R" transform="rotate(303.6)"><path class="t" d="M580 0H700"/><path class="d" d="M700 0H906"/><text x="918" y="7">HassOR29</text></g>
<g id="n222" class="B" transform="rotate(305.0)"><path class="t" d="M580 0H700"/><path class="d" d="M700 0H906"/><text x="918" y="7">HarmOR47</text></g>
<g id="n223" class="R" transform="rotate(306.4)"><path class="t" d="M580 0H700"/><path class="d" d="M700 0H906"/><text x="918" y="7">HassOR47</text></g>
<g id="n224" class="B" transform="rotate(307.8)"><path class="t" d="M580 0H700"/><path class="d" d="M700 0H906"/><text x="918" y="7">HarmOR25</text></g>
<g id="n225" class="R" transform="rotate(309.2)"><path class="t" d="M580 0H700"/><path class="d" d="M700 0H906"/><text x="918" y="7">HassOR25</text></g>
<g id="n226" class="K" transform="rotate(310.5)"><path class="t" d="M580 0H700"/><path class="d" d="M700 0H906"/><text x="918" y="7">SlittOR15</text></g>
<g id="n227" class="G" transform="rotate(311.9)"><path class="t" d="M580 0H700"/><path class="d" d="M700 0H906"/><text x="918" y="7">SfruOR15</text></g>
<g id="n228" class="B" transform="rotate(313.3)"><path class="t" d="M620 0H760"/><path class="d" d="M760 0H906"/><text x="918" y="7">HarmOR38</text></g>
<g id="n229" class="R" transform="rotate(314.7)"><path class="t" d="M620 0H760"/><path class="d" d="M760 0H906"/><text x="918" y="7">HassOR38</text></g>
<g id="n230" class="K" transform="rotate(316.1)"><path class="t" d="M620 0H760"/><path class="d" d="M760 0H906"/><text x="918" y="7">SlittOR27</text></g>
<g id="n231" class="G" transform="rotate(317.5)"><path class="t" d="M620 0H760"/><path class="d" d="M760 0H906"/><text x="918" y="7">SfruOR27</text></g>
<g id="n232" class="G" transform="rotate(318.8)"><path class="t" d="M620 0H760"/><path class="d" d="M760 0H906"/><text x="918" y="7">SfruOR71</text></g>
<g id="n233" class="K" transform="rotate(320.2)"><path class="t" d="M620 0H760"/><path class="d" d="M760 0H906"/><text x="918" y="7">SlittOR32</text></g>
<g id="n234" class="G" transform="rotate(321.6)"><path class="t" d="M620 0H760"/><path class="d" d="M760 0H906"/><text x="918" y="7">SfruOR32</text></g>
<g id="n235" class="B" transform="rotate(323.0)"><path class="t" d="M640 0H780"/><path class="d" d="M780 0H906"/><text x="918" y="7">HarmOR30</text></g>
<g id="n236" class="R" transform="rotate(324.4)"><path class="t" d="M640 0H780"/><path class="d" d="M780 0H906"/><text x="918" y="7">HassOR30</text></g>
<g id="n237" class="B" transform="rotate(325.8)"><path class="t" d="M640 0H780"/><path class="d" d="M780 0H906"/><text x="918" y="7">HarmOR10</text></g>
<g id="n238" class="R" transform="rotate(327.2)"><path class="t" d="M640 0H780"/><path class="d" d="M780 0H906"/><text x="918" y="7">HassOR10</text></g>
<g id="n239" class="K" transform="rotate(328.5)"><path class="t" d="M640 0H780"/><path class="d" d="M780 0H906"/><text x="918" y="7">SlittOR10</text></g>
<g id="n240" class="G" transform="rotate(329.9)"><path class="t" d="M640 0H780"/><path class="d" d="M780 0H906"/><text x="918" y="7">SfruOR10</text></g>
<g id="n241" class="B" transform="rotate(331.3)"><path class="t" d="M640 0H780"/><path class="d" d="M780 0H906"/><text x="918" y="7">HarmOR24</text></g>
<g id="n242" class="R" transform="rotate(332.7)"><path class="t" d="M620 0H760"/><path class="d" d="M760 0H906"/><text x="918" y="7">HassOR24</text></g>
<g id="n243" class="K" transform="rotate(334.1)"><path class="t" d="M620 0H760"/><path class="d" d="M760 0H906"/><text x="918" y="7">SlittOR26</text></g>
<g id="n244" class="G" transform="rotate(335.5)"><path class="t" d="M620 0H760"/><path class="d" d="M760 0H906"/><text x="918" y="7">SfruOR26</text></g>
<g id="n245" class="B" transform="rotate(336.8)"><path class="t" d="M620 0H760"/><path class="d" d="M760 0H906"/><text x="918" y="7">HarmOR17</text></g>
<g id="n246" class="R" transform="rotate(338.2)"><path class="t" d="M620 0H760"/><path class="d" d="M760 0H906"/><text x="918" y="7">HassOR17</text></g>
<g id="n247" class="K" transform="rotate(339.6)"><path class="t" d="M620 0H760"/><path class="d" d="M760 0H906"/><text x="918" y="7">SlittOR17</text></g>
<g id="n248" class="G" transform="rotate(341.0)"><path class="t" d="M620 0H760"/><path class="d" d="M760 0H906"/><text x="918" y="7">SfruOR17</text></g>
<g id="n249" class="B" transform="rotate(342.4)"><path class="t" d="M640 0H800"/><path class="d" d="M800 0H906"/><text x="918" y="7">HarmOR68</text></g>
<g id="n250" class="G" transform="rotate(343.8)"><path class="t" d="M640 0H800"/><path class="d" d="M800 0H906"/><text x="918" y="7">SfruOR66</text></g>
<g id="n251" class="B" transform="rotate(345.2)"><path class="t" d="M640 0H800"/><path class="d" d="M800 0H906"/><text x="918" y="7">HarmOR26</text></g>
<g id="n252" class="R" transform="rotate(346.5)"><path class="t" d="M640 0H800"/><path class="d" d="M800 0H906"/><text x="918" y="7">HassOR26</text></g>
<g id="n253" class="K" transform="rotate(347.9)"><path class="t" d="M620 0H760"/><path class="d" d="M760 0H906"/><text x="918" y="7">SlittOR31</text></g>
<g id="n254" class="G" transform="rotate(349.3)"><path class="t" d="M620 0H760"/><path class="d" d="M760 0H906"/><text x="918" y="7">SfruOR31</text></g>
<g id="n255" class="K" transform="rotate(350.7)"><path class="t" d="M620 0H760"/><path class="d" d="M760 0H906"/><text x="918" y="7">SlittOR60</text></g>
<g id="n256" class="G" transform="rotate(352.1)"><path class="t" d="M620 0H760"/><path class="d" d="M760 0H906"/><text x="918" y="7">SfruOR60</text></g>
<g id="n257" class="G" transform="rotate(353.5)"><path class="t" d="M620 0H760"/><path class="d" d="M760 0H906"/><text x="918" y="7">SfruOR61</text></g>
<g id="n258" class="K" transform="rotate(354.8)"><path class="t" d="M560 0H880"/><path class="d" d="M880 0H906"/><text x="918" y="7">SlittOrco</text></g>
<g id="n259" class="G" transform="rotate(356.2)"><path class="t" d="M560 0H880"/><path class="d" d="M880 0H906"/><text x="918" y="7">SfruOrco</text></g>
<g id="n260" class="R" transform="rotate(357.6)"><path class="t" d="M560 0H880"/><path class="d" d="M880 0H906"/><text x="918" y="7">HassOrco</text></g>
</g>
</g>
<g id="clade-labels">
<text class="big" x="2197" y="1046">Orco clade</text>
<text class="big" x="39" y="1827">Novel PR clade</text>
<text class="big" x="1365" y="2159">PR clade</text>
</g>
<g id="legend">
<text x="2156" y="1500" font-size="25" fill="#000">Support values</text>
<rect x="2156" y="1518" width="30" height="530" fill="url(#sv)"/>
<text x="2194" y="1526" font-size="13" fill="#000">1</text>
<text x="2194" y="2052" font-size="13" fill="#000">0</text>
</g>
<g id="scale">
<line x1="1139" y1="2266" x2="1220" y2="2266" stroke="#000" stroke-width="2"/>
<text x="1179" y="2290" font-size="14" text-anchor="middle" fill="#000">0.4</text>
</g>
</svg>
